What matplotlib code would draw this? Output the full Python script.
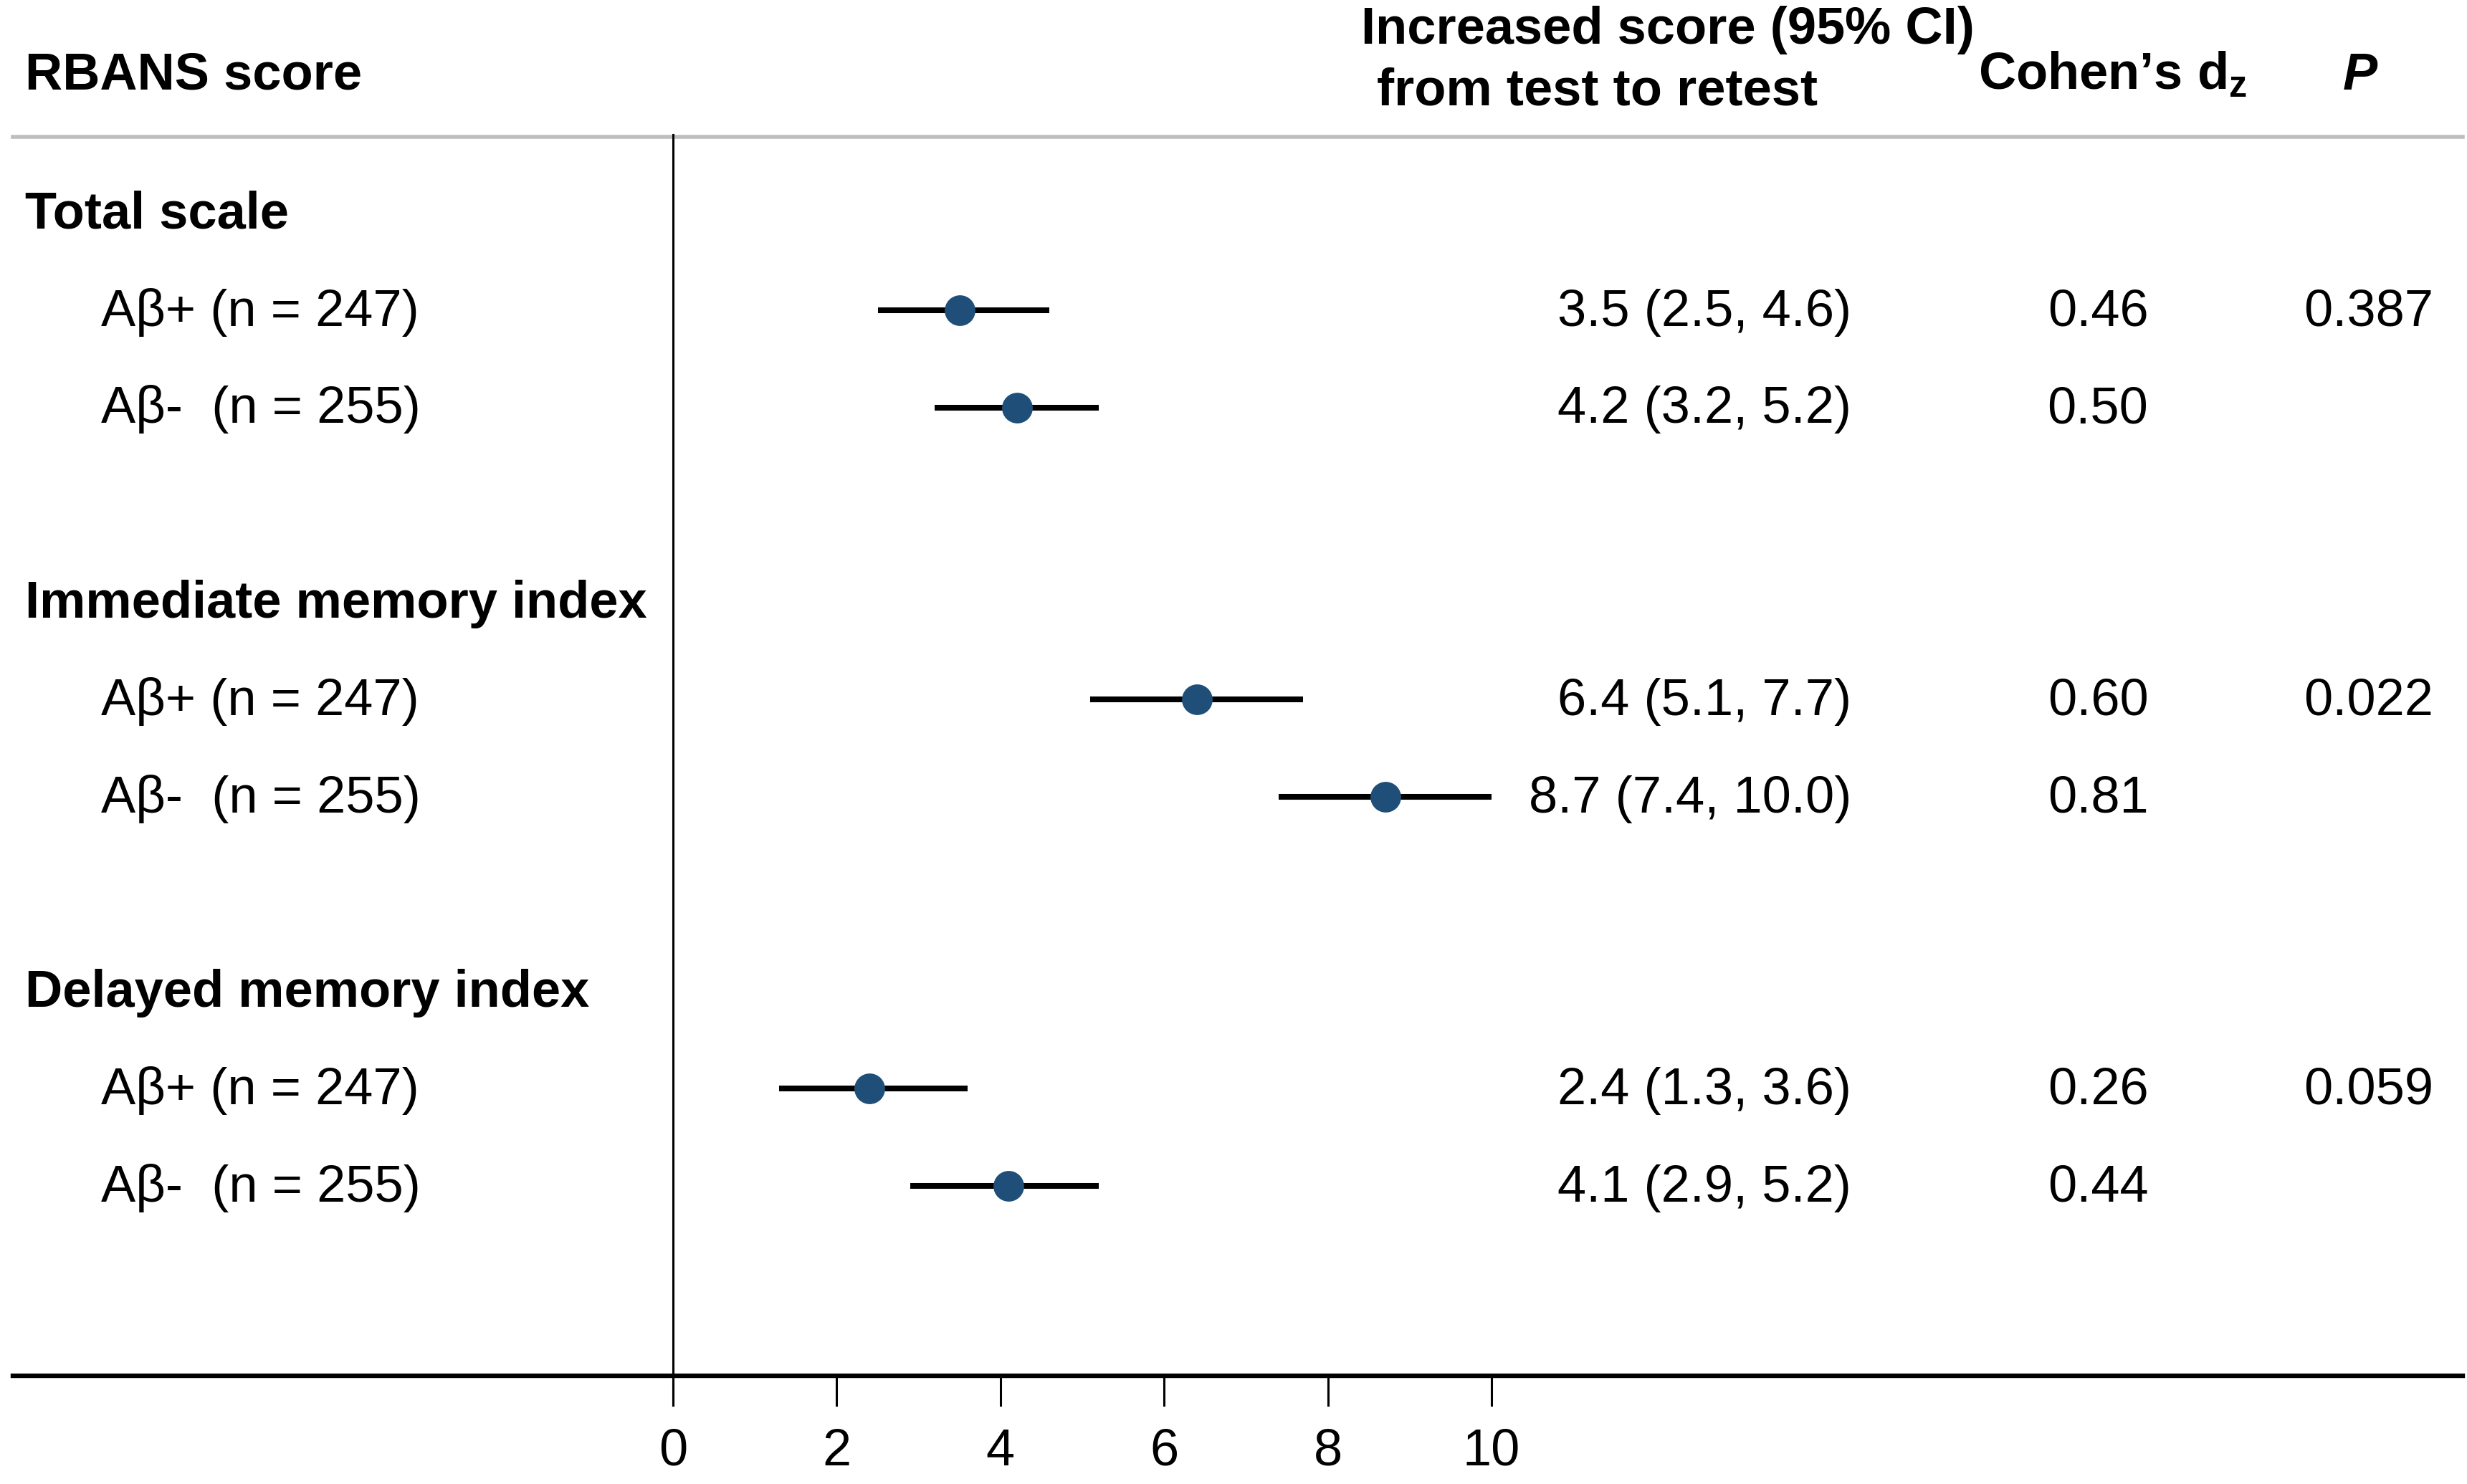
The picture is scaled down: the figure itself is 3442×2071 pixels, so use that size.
import matplotlib
matplotlib.use('Agg')
import matplotlib.pyplot as plt
from matplotlib.transforms import blended_transform_factory

plt.rcParams['font.family'] = ['Liberation Sans', 'DejaVu Sans']
plt.rcParams['mathtext.fontset'] = 'custom'
plt.rcParams['mathtext.rm'] = 'Liberation Sans'
plt.rcParams['mathtext.bf'] = 'Liberation Sans:bold'

# data
groups = ['Total scale', 'Immediate memory index', 'Delayed memory index']
row_labels = ['A\u03b2+ (n = 247)', 'A\u03b2-  (n = 255)']

mean_pos = [3.5, 6.4, 2.4]
low_pos = [2.5, 5.1, 1.3]
high_pos = [4.6, 7.7, 3.6]
mean_neg = [4.2, 8.7, 4.1]
low_neg = [3.2, 7.4, 2.9]
high_neg = [5.2, 10.0, 5.2]
d_pos = ['0.46', '0.60', '0.26']
d_neg = ['0.50', '0.81', '0.44']
p_values = ['0.387', '0.022', '0.059']
x_ticks = [0, 2, 4, 6, 8, 10]

W, H, DPI = 3442, 2071, 200
fig = plt.figure(figsize=(W / DPI, H / DPI), dpi=DPI)
ax = fig.add_axes([0, 0, 1, 1])
ax.set_xlim(-939 / 114.2, (W - 939) / 114.2)
ax.set_ylim((H - 297) / 135.8, -297 / 135.8)
ax.axis('off')

fx = blended_transform_factory(fig.transFigure, ax.transData)
def px(x):
    return x / W

FS = 26
base = 0.16  # baseline offset from row centre
marker_color = '#1F4E79'

# header
ax.text(px(35), -1.43 + base, 'RBANS score', transform=fx, fontsize=FS,
        fontweight='bold', ha='left', va='baseline')
ax.text(px(1899), -1.90 + base, 'Increased score (95% CI)', transform=fx,
        fontsize=FS, fontweight='bold', ha='left', va='baseline')
ax.text(px(1921), -1.27 + base, 'from test to retest', transform=fx,
        fontsize=FS, fontweight='bold', ha='left', va='baseline')
ax.text(px(2760), -1.43 + base, 'Cohen\u2019s d$_\\mathbf{z}$', transform=fx,
        fontsize=FS, fontweight='bold', ha='left', va='baseline')
ax.text(px(3293), -1.43 + base, 'P', transform=fx, fontsize=FS,
        fontweight='bold', fontstyle='italic', ha='center', va='baseline')

# rows
for i, g in enumerate(groups):
    r0 = i * 4
    ax.text(px(35), r0 + base, g, transform=fx, fontsize=FS,
            fontweight='bold', ha='left', va='baseline')
    rows = [(r0 + 1, mean_pos[i], low_pos[i], high_pos[i], d_pos[i], p_values[i]),
            (r0 + 2, mean_neg[i], low_neg[i], high_neg[i], d_neg[i], '')]
    for j, (r, m, lo, hi, d, p) in enumerate(rows):
        ax.text(px(141), r + base, row_labels[j], transform=fx, fontsize=FS,
                ha='left', va='baseline')
        ax.plot([lo, hi], [r, r], color='black', lw=2.9, solid_capstyle='butt', zorder=2)
        ax.plot(m, r, 'o', color=marker_color, markersize=14.4, zorder=3)
        ax.text(px(2583), r + base, f'{m:.1f} ({lo:.1f}, {hi:.1f})', transform=fx,
                fontsize=FS, ha='right', va='baseline')
        ax.text(px(2927), r + base, d, transform=fx, fontsize=FS,
                ha='center', va='baseline')
        if p:
            ax.text(px(3395), r + base, p, transform=fx, fontsize=FS,
                    ha='right', va='baseline')

# lines
ax.plot([px(18), px(3436)], [-0.78, -0.78], transform=fx, color='#BEBEBE', lw=2.0)
ax.plot([px(18), px(3436)], [11.95, 11.95], transform=fx, color='black', lw=2.3)
ax.plot([0, 0], [-0.80, 12.25], color='black', lw=1.1)
for t in x_ticks:
    ax.plot([t, t], [11.95, 12.25], color='black', lw=1.1)
    ax.text(t, 12.71 + base, str(t), fontsize=FS, ha='center', va='baseline')

fig.savefig('out.png', dpi=DPI, facecolor='white')
